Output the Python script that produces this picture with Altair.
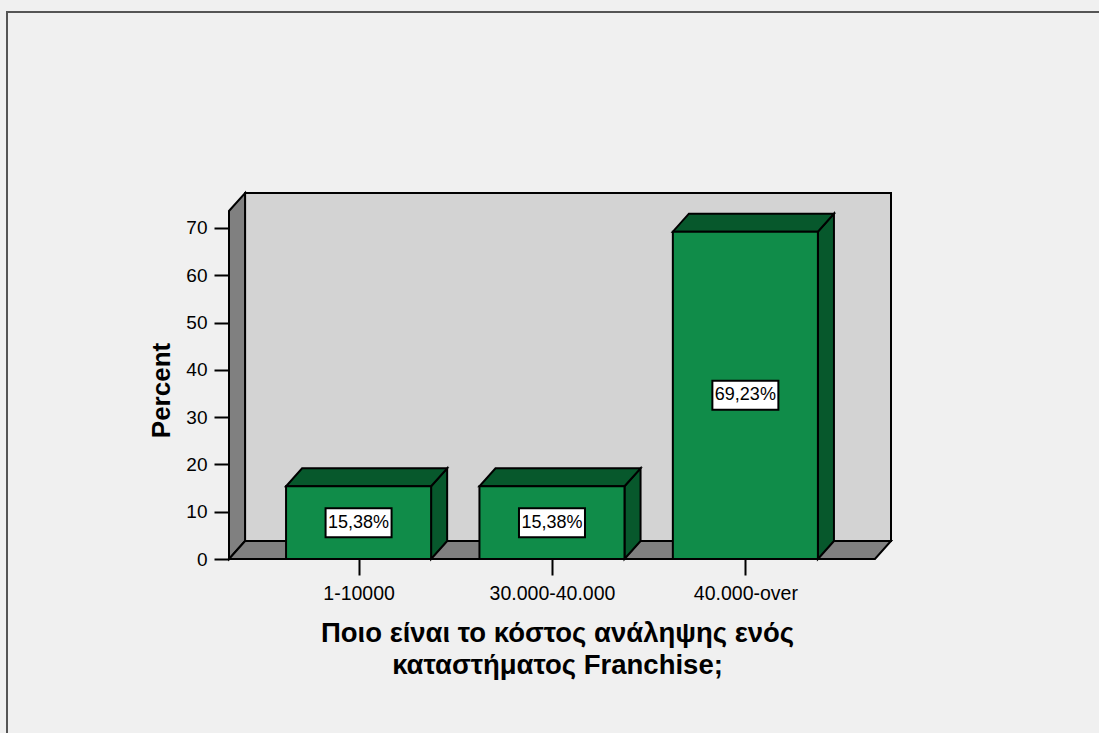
import json

import altair as alt
import pandas as pd

# Values
categories = ["1-10000", "30.000-40.000", "40.000-over"]
percents = [15.38, 15.38, 69.23]
y_ticks = [0, 10, 20, 30, 40, 50, 60, 70]
x_title = ["Ποιο είναι το κόστος ανάληψης ενός", "καταστήματος Franchise;"]
y_title = "Percent"

# 3-D box geometry in data units (x: category slots, y: percent)
X_MIN, X_MAX = -0.67, 2.67   # front edge of the floor
HALF = 0.375                  # half of a bar's width
DX, DY = 0.083, 3.8           # depth offset of walls and bars
Y_TOP = 73.6                  # front top edge of the side wall

FRONT = "#108c49"
SHADE = "#07582c"
WALL = "#d3d3d3"
FLOOR = "#808080"
BG = "#f0f0f0"
FONT = "Liberation Sans"

W, H = 662, 366
PAD = {"left": 229, "top": 193, "right": 208, "bottom": 174}

x_scale = alt.Scale(domain=[X_MIN, X_MAX + DX], nice=False, zero=False)
y_scale = alt.Scale(domain=[0, Y_TOP + DY], nice=False, zero=False)

label_expr = json.dumps(categories) + "[datum.value]"

x_axis = alt.Axis(
    values=list(range(len(categories))), labelExpr=label_expr, domain=False, grid=False,
    ticks=True, tickSize=16, tickWidth=2, tickColor="black",
    labelFont=FONT, labelFontSize=19.5, labelColor="black", labelPadding=9,
    labelOverlap=False, labelFlush=False,
    title=x_title, titleFont=FONT, titleFontSize=27.5, titleFontWeight="bold",
    titleColor="black", titleLineHeight=32, titleX=328, titleY=60,
    titleAlign="center", titleBaseline="top",
)
y_axis = alt.Axis(
    values=y_ticks, domain=False, grid=False,
    ticks=True, tickSize=15, tickWidth=2, tickColor="black",
    labelFont=FONT, labelFontSize=19, labelColor="black", labelPadding=7,
    title=y_title, titleFont=FONT, titleFontSize=26, titleFontWeight="bold",
    titleColor="black", titleAngle=270, titleX=-68, titleY=197,
    titleAlign="center", titleBaseline="middle",
)


def xs(field):
    return alt.X(field, type="quantitative", scale=x_scale, axis=x_axis)


def ys(field):
    return alt.Y(field, type="quantitative", scale=y_scale, axis=y_axis, stack=None)


# Polygons (side wall, floor, bar tops and bar sides) as vertical areas
rows = []


def poly(name, fill, pts):
    for x, lo, hi in pts:
        rows.append({"poly": name, "fill": fill, "x": x, "y": lo, "y2": hi})


poly("wall", FLOOR, [(X_MIN, 0, Y_TOP), (X_MIN + DX, DY, Y_TOP + DY)])
poly("floor", FLOOR, [(X_MIN, 0, 0), (X_MIN + DX, 0, DY), (X_MAX, 0, DY), (X_MAX + DX, DY, DY)])
for i, v in enumerate(percents):
    x0, x1 = i - HALF, i + HALF
    poly(f"side{i}", SHADE, [(x1, 0, v), (x1 + DX, DY, v + DY)])
    poly(f"top{i}", SHADE, [(x0, v, v), (x0 + DX, v, v + DY), (x1, v, v + DY), (x1 + DX, v + DY, v + DY)])
faces = pd.DataFrame(rows)

bars = pd.DataFrame({
    "x": list(range(len(categories))),
    "x0": [i - HALF for i in range(len(categories))],
    "x1": [i + HALF for i in range(len(categories))],
    "y": percents,
    "mid": [v / 2 for v in percents],
    "label": [f"{v:.2f}".replace(".", ",") + "%" for v in percents],
})

back = pd.DataFrame({"x": [X_MIN + DX], "x2": [X_MAX + DX], "y": [DY], "y2": [Y_TOP + DY]})

back_wall = alt.Chart(back).mark_rect(fill=WALL, stroke="black", strokeWidth=2).encode(
    x=xs("x"), x2="x2", y=ys("y"), y2="y2"
)

polys = alt.Chart(faces).mark_area(
    orient="vertical", stroke="black", strokeWidth=2, strokeJoin="miter"
).encode(
    x=xs("x"), y=ys("y"), y2="y2",
    detail="poly:N", color=alt.Color("fill:N", scale=None),
)

fronts = alt.Chart(bars).mark_rect(fill=FRONT, stroke="black", strokeWidth=2).encode(
    x=xs("x0"), x2="x1", y=ys("y"), y2=alt.datum(0)
)

boxes = alt.Chart(bars).mark_rect(
    width=66, height=29, fill="white", stroke="black", strokeWidth=2
).encode(x=xs("x"), y=ys("mid"))

texts = alt.Chart(bars).mark_text(
    font=FONT, fontSize=18, color="black", align="center", baseline="middle"
).encode(x=xs("x"), y=ys("mid"), text="label:N")

# outer frame of the chart page
frame = alt.Chart(pd.DataFrame({"k": [0]})).mark_rect(
    fill=None, stroke="#555555", strokeWidth=2
).encode(
    x=alt.value(7 - PAD["left"]), x2=alt.value(1120 - PAD["left"]),
    y=alt.value(12 - PAD["top"]), y2=alt.value(760 - PAD["top"]),
)

chart = alt.layer(back_wall, polys, fronts, boxes, texts, frame).properties(
    width=W, height=H,
    autosize=alt.AutoSizeParams(type="none"),
    padding=PAD,
    background=BG,
).configure_view(stroke=None)

chart.save("out.html", embed_options={"renderer": "svg", "actions": False})
